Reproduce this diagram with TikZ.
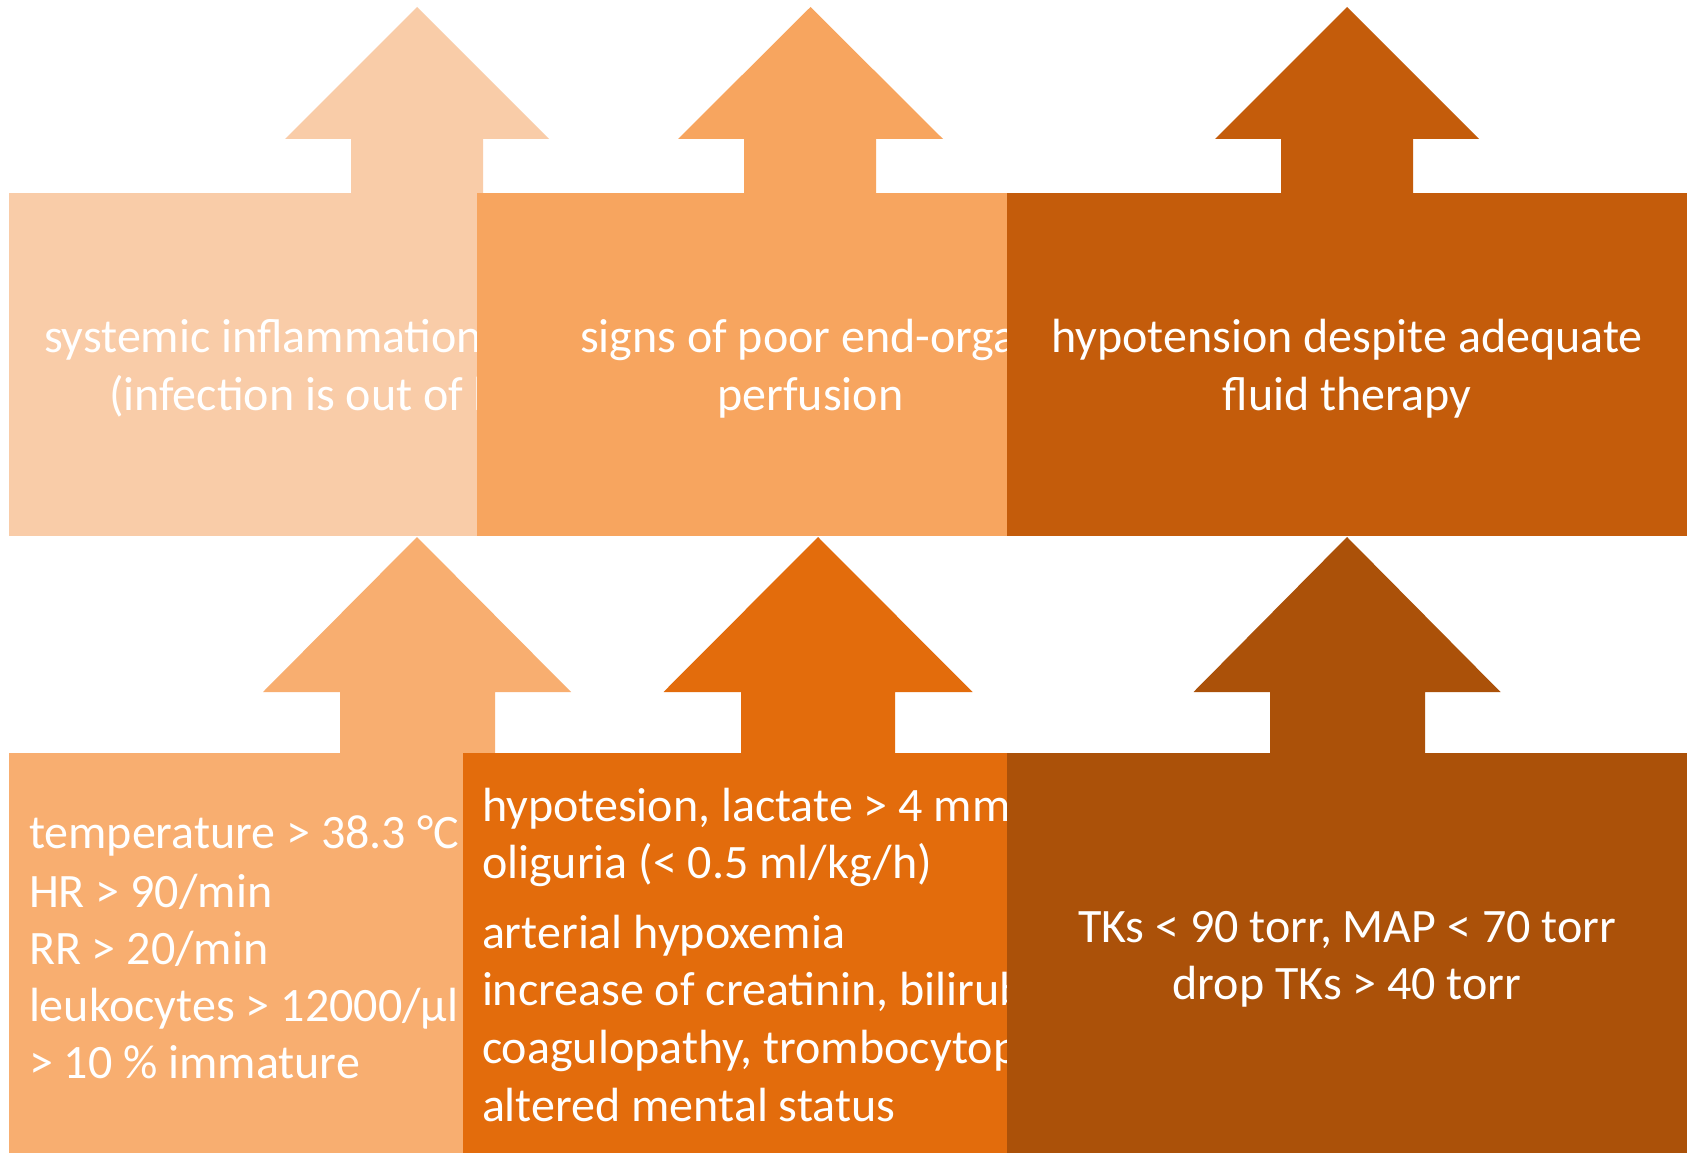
\documentclass[tikz,border=0pt]{standalone}
\usepackage{fontspec}
\setmainfont{Carlito}
\definecolor{tA}{HTML}{F9CCA8}
\definecolor{tB}{HTML}{F7A55F}
\definecolor{tC}{HTML}{C45C0B}
\definecolor{bA}{HTML}{F8AE70}
\definecolor{bB}{HTML}{E36C0C}
\definecolor{bC}{HTML}{AB5109}
\tikzset{
  txt/.style={inner sep=0pt, outer sep=0pt, text=white, font=\fontsize{48}{57.5}\selectfont},
  txtl/.style={txt, anchor=base west},
  txtc/.style={txt, anchor=base}
}
\begin{document}
\begin{tikzpicture}[x=1pt,y=-1pt]
\useasboundingbox (0,0) rectangle (1689,1153);
\fill[white] (0,0) rectangle (1689,1153);
% ---------- top row ----------
% box 1
\fill[tA] (8.6,193) rectangle (766,536);
\fill[tA] (285,139) -- (417,7) -- (549,139) -- (483,139) -- (483,193.5) -- (351,193.5) -- (351,139) -- cycle;
\node[txtl] (t1a) at (44,352) {systemic inflammation};
\node[txtl] (t1b) at (109,410) {(infection is out of hand)};
% box 2
\fill[tB] (477,193) rectangle (1061,536);
\fill[tB] (678,139) -- (810.5,7) -- (943,139) -- (876,139) -- (876,193.5) -- (744,193.5) -- (744,139) -- cycle;
\node[txtl] (t2a) at (580,352) {signs of poor end-organ};
\node[txtc] (t2b) at (810.5,410) {perfusion};
% box 3
\fill[tC] (1007,193) rectangle (1687,536);
\fill[tC] (1215,139) -- (1347,7) -- (1479,139) -- (1413,139) -- (1413,193.5) -- (1281,193.5) -- (1281,139) -- cycle;
\node[txtc] (t3a) at (1347,352) {hypotension despite adequate};
\node[txtc] (t3b) at (1347,410) {fluid therapy};
% ---------- bottom row ----------
% box 1
\fill[bA] (8.6,753) rectangle (826,1153);
\fill[bA] (263,692) -- (417,537) -- (571,692) -- (495,692) -- (495,753.5) -- (340,753.5) -- (340,692) -- cycle;
\node[txtl] (b1a) at (29,848) {temperature > 38.3 °C};
\node[txtl] (b1b) at (29,907) {HR > 90/min};
\node[txtl] (b1c) at (29,964) {RR > 20/min};
\node[txtl] (b1d) at (29,1021) {leukocytes > 12000/µl};
\node[txtl] (b1e) at (29,1078) {> 10 \% immature};
% box 2
\fill[bB] (463,753) rectangle (1173,1153);
\fill[bB] (663.5,692) -- (818,537) -- (972.5,692) -- (895,692) -- (895,753.5) -- (741,753.5) -- (741,692) -- cycle;
\node[txtl] (b2a) at (482,821) {hypotesion, lactate > 4 mmol/l};
\node[txtl] (b2b) at (482,878) {oliguria (< 0.5 ml/kg/h)};
\node[txtl] (b2c) at (482,948) {arterial hypoxemia};
\node[txtl] (b2d) at (482,1005) {increase of creatinin, bilirubin};
\node[txtl] (b2e) at (482,1063) {coagulopathy, trombocytopenia};
\node[txtl] (b2f) at (482,1121) {altered mental status};
% box 3
\fill[bC] (1007,753) rectangle (1687,1153);
\fill[bC] (1193.5,692) -- (1347,537) -- (1500.5,692) -- (1425,692) -- (1425,753.5) -- (1270,753.5) -- (1270,692) -- cycle;
\node[txtc] (b3a) at (1347,942) {TKs < 90 torr, MAP < 70 torr};
\node[txtc] (b3b) at (1347,999) {drop TKs > 40 torr};
\end{tikzpicture}
\end{document}
